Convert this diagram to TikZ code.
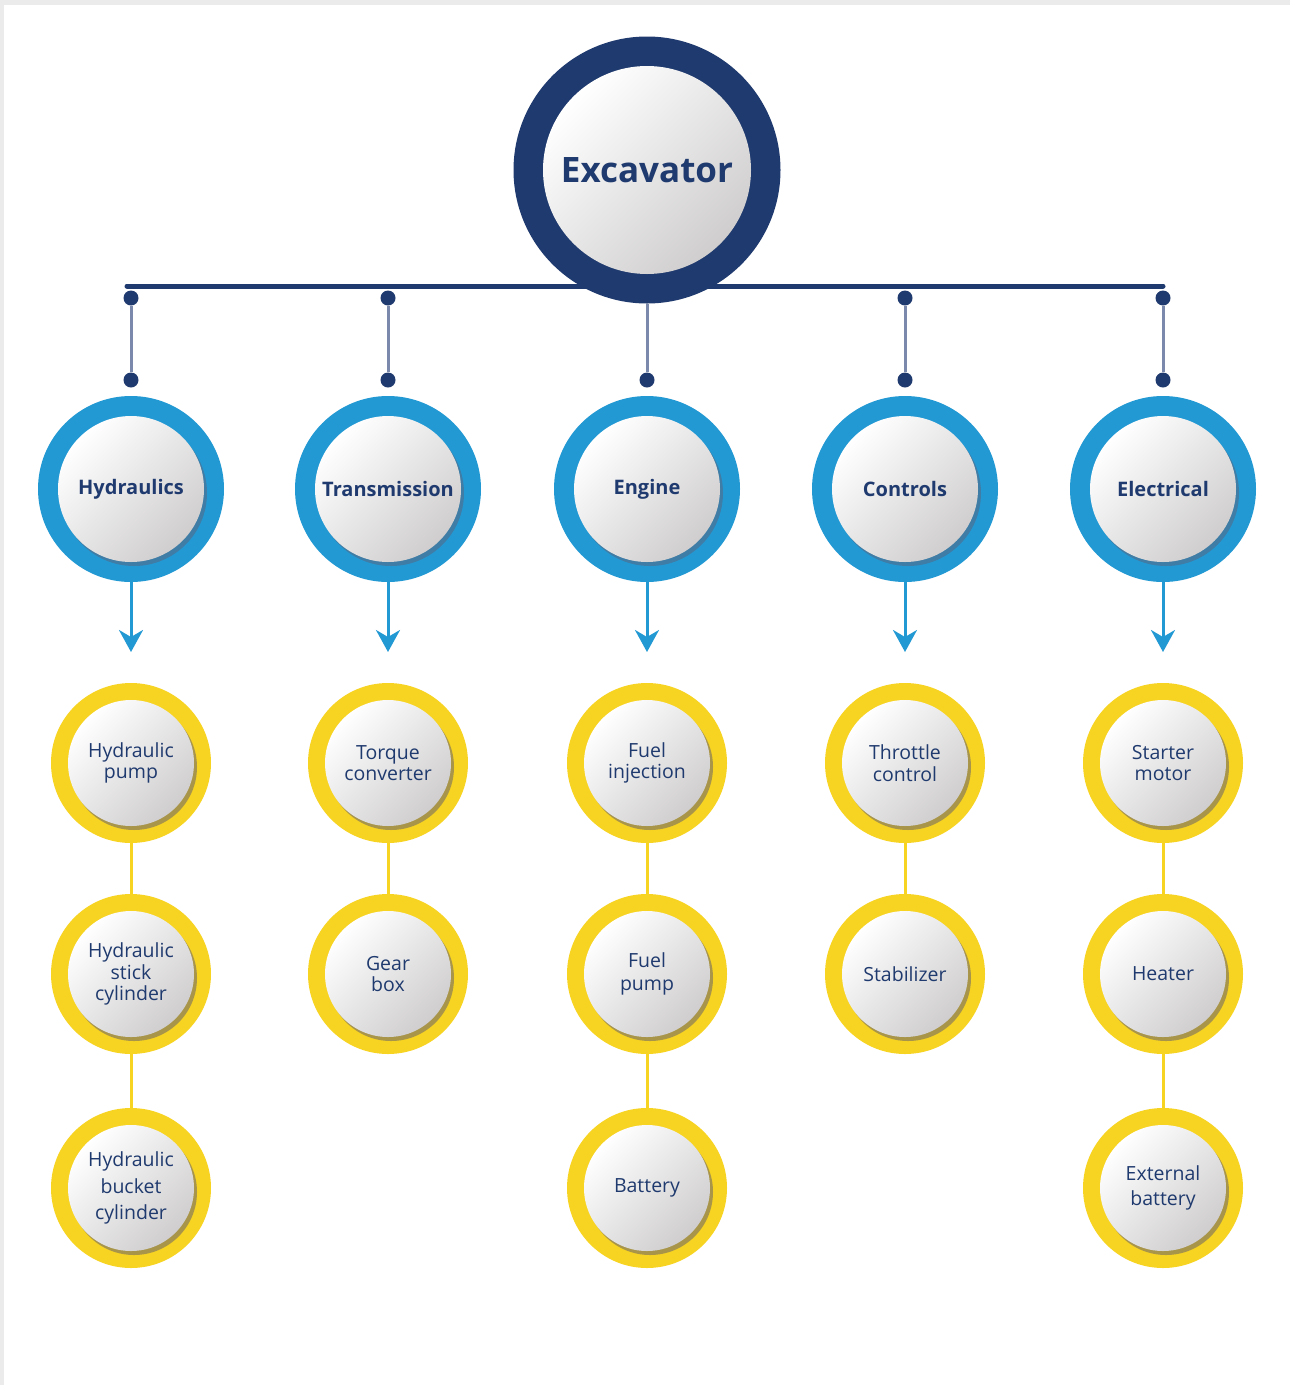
\documentclass[tikz,border=0pt]{standalone}
\usepackage{fontspec}
\setmainfont{Open Sans}
\usetikzlibrary{arrows.meta,backgrounds}

\definecolor{navy}{HTML}{1F3A6E}
\definecolor{catblue}{HTML}{2399D4}
\definecolor{leafyellow}{HTML}{F7D322}
\definecolor{linkgray}{HTML}{7B89AD}
\definecolor{discgray}{HTML}{CFCDCD}
\definecolor{catshadow}{HTML}{3F7DA6}
\definecolor{leafshadow}{HTML}{A8954A}
\definecolor{framegray}{HTML}{EBEBEB}

\tikzset{
  disc/.style 2 args={path picture={
      \fill[#2] ([shift={(3pt,-4pt)}]path picture bounding box.center) circle (#1);
      \shade[top color=white, bottom color=discgray, shading angle=45]
        (path picture bounding box.center) circle (#1);}},
  root/.style={circle, minimum size=267pt, inner sep=0pt, fill=navy, text=navy,
    font=\bfseries\fontsize{35}{40}\selectfont, disc={104pt}{navy}},
  cat/.style={circle, minimum size=186pt, inner sep=0pt, fill=catblue, text=navy,
    font=\bfseries\fontsize{20}{24}\selectfont, disc={73pt}{catshadow}},
  leaf/.style={circle, minimum size=160pt, inner sep=0pt, fill=leafyellow, text=navy,
    align=center, font=\fontsize{19.5}{21.5}\selectfont, disc={63pt}{leafshadow}},
  dot/.style={circle, fill=navy, minimum size=15pt, inner sep=0pt},
  bar/.style={navy, line width=5pt, line cap=round},
  link/.style={linkgray, line width=3pt},
  drop/.style={catblue, line width=3pt, -{Stealth[length=22pt,width=24pt,inset=7pt]}},
  chain/.style={leafyellow, line width=3pt}
}

\begin{document}
\begin{tikzpicture}[x=1pt,y=-1pt]

    \useasboundingbox (0,0) rectangle (1290,1385);

    % top
    \node[root] (exc) at (647,170) {Excavator};
    \coordinate (bar west) at (127,286);
    \coordinate (bar east) at (1163,286);

    % second row
    \node[dot] (hyd top) at (131,298) {};
    \node[dot] (trans top) at (388,298) {};
    \node[dot] (ctrl top) at (905,298) {};
    \node[dot] (elec top) at (1163,298) {};
    \node[dot] (hyd low) at (131,380) {};
    \node[dot] (trans low) at (388,380) {};
    \node[dot] (eng low) at (647,380) {};
    \node[dot] (ctrl low) at (905,380) {};
    \node[dot] (elec low) at (1163,380) {};

    \node[cat] (hyd) at (131,489) {Hydraulics};
    \node[cat] (trans) at (388,489) {Transmission};
    \node[cat] (eng) at (647,489) {Engine};
    \node[cat] (ctrl) at (905,489) {Controls};
    \node[cat] (elec) at (1163,489) {Electrical};

    \coordinate (hyd tip) at (131,652);
    \coordinate (trans tip) at (388,652);
    \coordinate (eng tip) at (647,652);
    \coordinate (ctrl tip) at (905,652);
    \coordinate (elec tip) at (1163,652);

    % leaves
    \node[leaf] (hpump) at (131,763) {Hydraulic\\pump};
    \node[leaf] (hstick) at (131,974) {Hydraulic\\stick\\cylinder};
    \node[leaf] (hbucket) at (131,1188) {Hydraulic\\[5pt]bucket\\[5pt]cylinder};

    \node[leaf] (torque) at (388,763) {Torque\\converter};
    \node[leaf] (gear) at (388,974) {Gear\\box};

    \node[leaf] (finj) at (647,763) {Fuel\\injection};
    \node[leaf] (fpump) at (647,974) {Fuel\\[2pt]pump};
    \node[leaf] (batt) at (647,1188) {Battery};

    \node[leaf] (throttle) at (905,763) {Throttle\\control};
    \node[leaf] (stab) at (905,974) {Stabilizer};

    \node[leaf] (starter) at (1163,763) {Starter\\motor};
    \node[leaf] (heater) at (1163,974) {Heater};
    \node[leaf] (extbatt) at (1163,1188) {External\\[4pt]battery};

    \begin{scope}[on background layer]
    \fill[framegray] (0,0) rectangle (1290,1385);
    \fill[white] (4,5) rectangle (1290,1385);

    \draw[bar] (bar west) -- (bar east);
    \draw[link] (hyd top) -- (hyd low);
    \draw[link] (trans top) -- (trans low);
    \draw[link] (exc) -- (eng low);
    \draw[link] (ctrl top) -- (ctrl low);
    \draw[link] (elec top) -- (elec low);

    \draw[drop] (hyd) -- (hyd tip);
    \draw[drop] (trans) -- (trans tip);
    \draw[drop] (eng) -- (eng tip);
    \draw[drop] (ctrl) -- (ctrl tip);
    \draw[drop] (elec) -- (elec tip);

    \draw[chain] (hpump) -- (hstick);
    \draw[chain] (hstick) -- (hbucket);
    \draw[chain] (torque) -- (gear);
    \draw[chain] (finj) -- (fpump);
    \draw[chain] (fpump) -- (batt);
    \draw[chain] (throttle) -- (stab);
    \draw[chain] (starter) -- (heater);
    \draw[chain] (heater) -- (extbatt);
    \end{scope}

\end{tikzpicture}
\end{document}
